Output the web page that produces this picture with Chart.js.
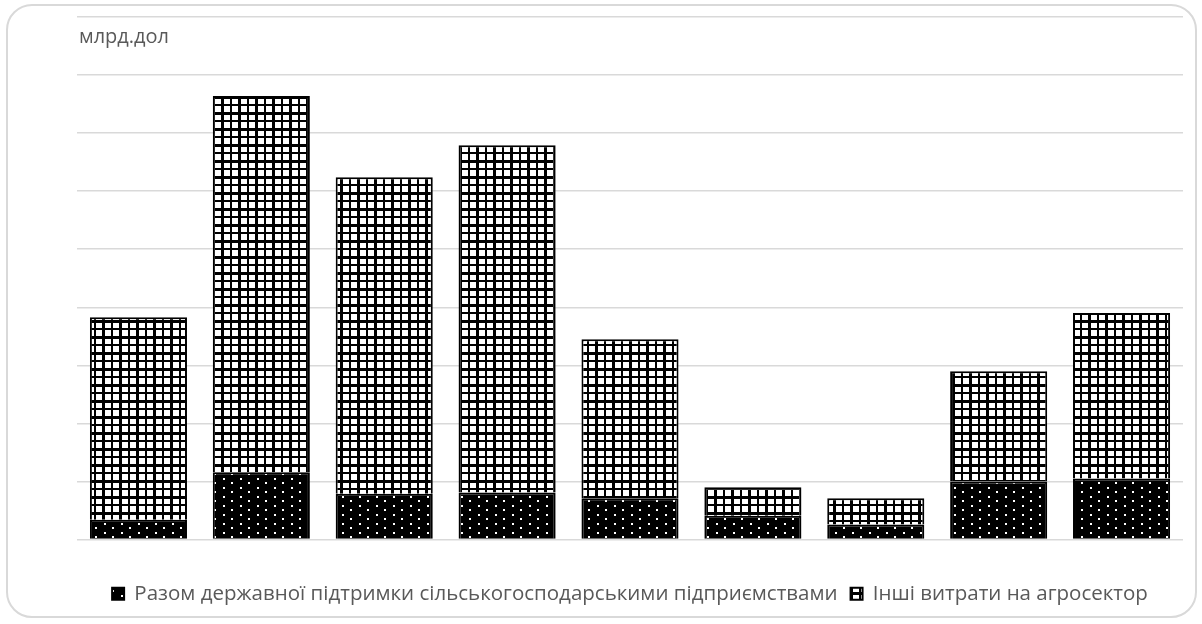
<!DOCTYPE html>
<html>
<head>
<meta charset="utf-8">
<script src="https://cdn.jsdelivr.net/npm/chart.js@4.4.1/dist/chart.umd.min.js"></script>
<style>
  html, body { margin: 0; padding: 0; background: #fff; }
  #wrap { position: relative; width: 1202px; height: 624px; overflow: hidden; }
  #card {
    position: absolute; left: 6px; top: 4px; width: 1191px; height: 614px;
    border: 2px solid #d9d9d9; border-radius: 26px; box-sizing: border-box;
  }
  #chart { position: absolute; left: 0; top: 0; }
</style>
</head>
<body>
<div id="wrap">
  <div id="card"></div>
  <canvas id="chart" width="1202" height="624"></canvas>
</div>
<script>
// values (gridline = 1 unit, labels are not shown)
const categories = ['1', '2', '3', '4', '5', '6', '7', '8', '9'];
const supportTotal = [0.34, 1.16, 0.79, 0.81, 0.71, 0.41, 0.26, 1.00, 1.05];
const otherSpending = [3.49, 6.48, 5.45, 5.98, 2.74, 0.49, 0.45, 1.90, 2.85];
const seriesNames = [
  'Разом державної підтримки сільськогосподарськими підприємствами',
  'Інші витрати на агросектор'
];
const unitLabel = 'млрд.дол';

function makeGrid() {
  const c = document.createElement('canvas');
  c.width = 17; c.height = 16;
  const g = c.getContext('2d');
  g.fillStyle = '#fff';
  g.fillRect(0, 0, 17, 16);
  g.fillStyle = '#000';
  g.fillRect(0, 0, 17, 3);
  g.fillRect(0, 8, 17, 2);
  g.fillRect(0, 0, 3, 16);
  g.fillRect(9, 0, 2, 16);
  return g.createPattern(c, 'repeat');
}

function makeDots() {
  const c = document.createElement('canvas');
  c.width = 17; c.height = 9;
  const g = c.getContext('2d');
  g.fillStyle = '#000';
  g.fillRect(0, 0, 17, 9);
  g.fillStyle = '#fff';
  g.fillRect(2, 1, 2, 2);
  g.fillRect(10, 5, 2, 2);
  return g.createPattern(c, 'repeat');
}

const unitTitle = {
  id: 'unitTitle',
  afterDraw(chart) {
    const ctx = chart.ctx;
    ctx.save();
    ctx.font = '20px "Open Sans", sans-serif';
    ctx.fillStyle = '#595959';
    ctx.textBaseline = 'middle';
    ctx.fillText(unitLabel, chart.chartArea.left + 2, chart.chartArea.top + 20);
    ctx.restore();
  }
};

new Chart(document.getElementById('chart'), {
  type: 'bar',
  data: {
    labels: categories,
    datasets: [
      {
        label: seriesNames[0],
        data: supportTotal,
        backgroundColor: makeDots(),
        borderColor: '#000',
        borderWidth: 2
      },
      {
        label: seriesNames[1],
        data: otherSpending,
        backgroundColor: makeGrid(),
        borderColor: '#000',
        borderWidth: 2
      }
    ]
  },
  options: {
    responsive: false,
    animation: false,
    layout: { padding: { left: 77, right: 19, top: 17, bottom: 10 } },
    datasets: { bar: { categoryPercentage: 1, barPercentage: 0.79 } },
    scales: {
      x: {
        stacked: true,
        grid: { display: false },
        border: { display: false },
        ticks: { display: false },
        afterFit(s) { s.height = 31; }
      },
      y: {
        stacked: true,
        min: 0,
        max: 9,
        ticks: { display: false, stepSize: 1 },
        grid: { color: '#d9d9d9', lineWidth: 1.5, drawTicks: false },
        border: { display: false },
        afterFit(s) { s.width = 0; }
      }
    },
    plugins: {
      legend: {
        position: 'bottom',
        labels: {
          boxWidth: 12,
          boxHeight: 12,
          padding: 13,
          color: '#595959',
          font: { family: '"Open Sans", sans-serif', size: 20.5 }
        }
      },
      tooltip: { enabled: false }
    }
  },
  plugins: [unitTitle]
});
</script>
</body>
</html>
